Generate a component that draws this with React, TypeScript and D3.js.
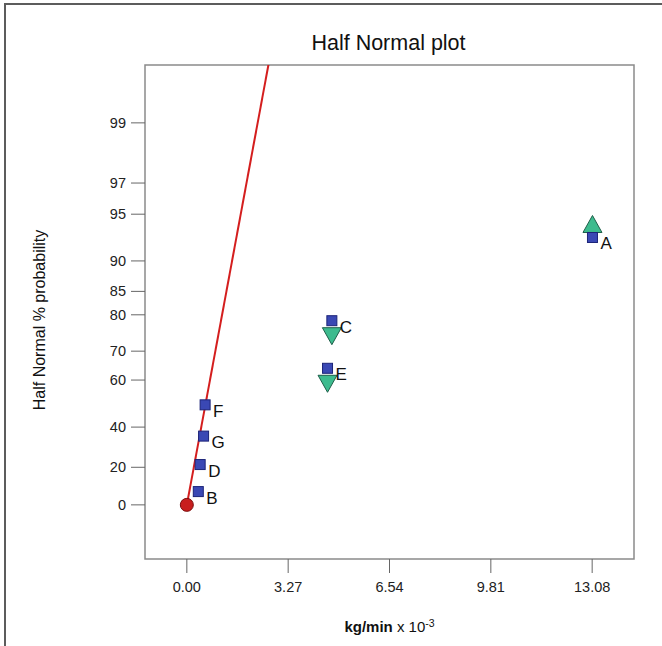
import React from 'react';
import * as d3 from 'd3';

// factors ranked by effect size (half-normal plot)
const factors = ['B', 'D', 'G', 'F', 'E', 'C', 'A'];
const effects = [0.37, 0.43, 0.54, 0.59, 4.54, 4.68, 13.09];
const halfNormalPct = [7.14, 21.43, 35.71, 50, 64.29, 78.57, 92.86];

// chosen effects drawn with a triangle (up = positive, down = negative)
const triangleFactors = ['A', 'C', 'E'];
const triangleDirs = ['up', 'down', 'down'];

const yTicks = [0, 20, 40, 60, 70, 80, 85, 90, 95, 97, 99];
const xTicks = [0, 3.27, 6.54, 9.81, 13.08];
const xTickLabels = ['0.00', '3.27', '6.54', '9.81', '13.08'];

// fitted line through origin: z-score per unit effect
const fitSlope = 1.127;

const W = 662;
const H = 646;

// inverse standard normal cdf (Acklam)
function invNorm(p: number): number {
  const a = [-3.969683028665376e1, 2.209460984245205e2, -2.759285104469687e2, 1.38357751867269e2, -3.066479806614716e1, 2.506628277459239];
  const b = [-5.447609879822406e1, 1.615858368580409e2, -1.556989798598866e2, 6.680131188771972e1, -1.328068155288572e1];
  const c = [-7.784894002430293e-3, -3.223964580411365e-1, -2.400758277161838, -2.549732539343734, 4.374664141464968, 2.938163982698783];
  const d = [7.784695709041462e-3, 3.224671290700398e-1, 2.445134137142996, 3.754408661907416];
  const pl = 0.02425;
  if (p < pl) {
    const q = Math.sqrt(-2 * Math.log(p));
    return (((((c[0] * q + c[1]) * q + c[2]) * q + c[3]) * q + c[4]) * q + c[5]) / ((((d[0] * q + d[1]) * q + d[2]) * q + d[3]) * q + 1);
  }
  if (p > 1 - pl) {
    const q = Math.sqrt(-2 * Math.log(1 - p));
    return -(((((c[0] * q + c[1]) * q + c[2]) * q + c[3]) * q + c[4]) * q + c[5]) / ((((d[0] * q + d[1]) * q + d[2]) * q + d[3]) * q + 1);
  }
  const q = p - 0.5;
  const r = q * q;
  return (((((a[0] * r + a[1]) * r + a[2]) * r + a[3]) * r + a[4]) * r + a[5]) * q / (((((b[0] * r + b[1]) * r + b[2]) * r + b[3]) * r + b[4]) * r + 1);
}

// half-normal percent -> z
const hz = (pct: number) => invNorm(0.5 + pct / 200);

const font = 'Liberation Sans, Arial, sans-serif';

export default function App() {
  const left = 145, right = 634, top = 65, bottom = 559;
  const x = d3.scaleLinear().domain([-1.35, 14.43]).range([left, right]);
  const y = d3.scaleLinear().domain([-0.365, 2.966]).range([bottom, top]);

  const points = factors.map((f, i) => ({ f, px: x(effects[i]), py: y(hz(halfNormalPct[i])) }));

  const zTop = y.domain()[1];
  const fitPath = d3.line<[number, number]>()
    .x(d => x(d[0]))
    .y(d => y(d[1]))([[0, 0], [(zTop + 0.2) / fitSlope, zTop + 0.2]]);

  const tri = (cx: number, cy: number, dir: string) => {
    const w = 9.5, h = 17;
    if (dir === 'up') {
      const b = cy - 5;
      return `M${cx - w},${b}L${cx + w},${b}L${cx},${b - h}Z`;
    }
    const b = cy + 7;
    return `M${cx - w},${b}L${cx + w},${b}L${cx},${b + h}Z`;
  };

  return (
    <svg width={W} height={H} style={{ position: 'absolute', left: 0, top: 0, background: '#fff' }} fontFamily={font}>
      {/* outer frame (top & left only) */}
      <line x1={4} y1={4} x2={W} y2={4} stroke="#5c5c5c" strokeWidth={2} />
      <line x1={5} y1={4} x2={5} y2={H} stroke="#5c5c5c" strokeWidth={2} />

      <text x={(left + right) / 2 - 1} y={50} textAnchor="middle" fontSize={21.5} fill="#111">Half Normal plot</text>

      <defs>
        <clipPath id="plotClip">
          <rect x={left} y={top} width={right - left} height={bottom - top} />
        </clipPath>
      </defs>

      <rect x={left} y={top} width={right - left} height={bottom - top} fill="none" stroke="#8a8a8a" strokeWidth={1.5} />

      {/* y ticks */}
      {yTicks.map(t => (
        <g key={t}>
          <line x1={left - 14} x2={left} y1={y(hz(t))} y2={y(hz(t))} stroke="#666" strokeWidth={1} />
          <text x={left - 19} y={y(hz(t)) + 5} textAnchor="end" fontSize={14.5} fill="#222">{t}</text>
        </g>
      ))}

      {/* x ticks */}
      {xTicks.map((t, i) => (
        <g key={t}>
          <line x1={x(t)} x2={x(t)} y1={bottom} y2={bottom + 14} stroke="#666" strokeWidth={1} />
          <text x={x(t)} y={592} textAnchor="middle" fontSize={14.5} fill="#222">{xTickLabels[i]}</text>
        </g>
      ))}

      <text x={(left + right) / 2} y={632} textAnchor="middle" fontSize={15} fill="#111">
        <tspan fontWeight="bold">kg/min</tspan>
        <tspan> x 10</tspan>
        <tspan fontSize={10.5} dy={-5}>-3</tspan>
      </text>

      <text transform={`translate(45,320) rotate(-90)`} textAnchor="middle" fontSize={16} fill="#111">
        Half Normal % probability
      </text>

      <path d={fitPath ?? ''} fill="none" stroke="#d41e1e" strokeWidth={2} clipPath="url(#plotClip)" />

      <circle cx={x(0)} cy={y(0)} r={6.5} fill="#c81e1e" stroke="#7a0c0c" strokeWidth={1} />

      {triangleFactors.map((f, i) => {
        const p = points.find(q => q.f === f)!;
        return <path key={f} d={tri(p.px, p.py, triangleDirs[i])} fill="#3dbb8e" stroke="#1f5f4a" strokeWidth={1} />;
      })}

      {points.map(p => (
        <g key={p.f}>
          <rect x={p.px - 5} y={p.py - 5} width={10} height={10} fill="#3a48b4" stroke="#1c2478" strokeWidth={1} />
          <text x={p.px + 8} y={p.py + 12} fontSize={17} fill="#111">{p.f}</text>
        </g>
      ))}
    </svg>
  );
}
